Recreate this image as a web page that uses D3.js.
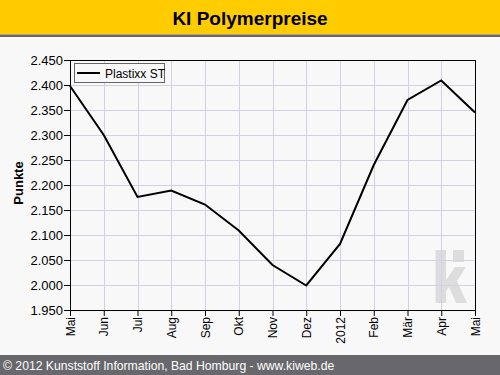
<!DOCTYPE html>
<html><head><meta charset="utf-8">
<script src="https://cdn.jsdelivr.net/npm/d3@7"></script>
<style>html,body{margin:0;padding:0;background:#f8f8f8;}svg{display:block;font-family:"Liberation Sans",Arial,sans-serif;}</style>
</head><body>
<svg id="c" width="500" height="375"></svg>
<script>
const months = ["Mai","Jun","Jul","Aug","Sep","Okt","Nov","Dez","2012","Feb","Mär","Apr","Mai"];
const values = [2.398,2.300,2.176,2.189,2.161,2.109,2.040,1.999,2.082,2.240,2.370,2.409,2.345];
const yTicks = [1.95,2.0,2.05,2.1,2.15,2.2,2.25,2.3,2.35,2.4,2.45];
const seriesName = "Plastixx ST";
const title = "KI Polymerpreise";
const yTitle = "Punkte";
const footer = "© 2012 Kunststoff Information, Bad Homburg - www.kiweb.de";

const svg = d3.select("#c");
const L = 70, R = 475, T = 60, B = 310;
const x = d3.scaleLinear().domain([0, months.length-1]).range([L, R]);
const y = d3.scaleLinear().domain([1.95, 2.45]).range([B, T]);
const fmt = v => d3.format(".3f")(v);

svg.append("rect").attr("width",500).attr("height",375).attr("fill","#f8f8f8");
// title bar
svg.append("rect").attr("x",0).attr("y",0).attr("width",500).attr("height",34.5).attr("fill","#ffcc00");
svg.append("rect").attr("x",0).attr("y",34.5).attr("width",500).attr("height",2.5).attr("fill","#68686c");
svg.append("text").attr("x",250).attr("y",25).attr("text-anchor","middle")
  .attr("font-size",19).attr("font-weight","bold").attr("fill","#000").text(title);

// watermark
const wm = svg.append("g").attr("fill","#dddddd");
wm.append("rect").attr("x",435.5).attr("y",250).attr("width",10.5).attr("height",53);
wm.append("rect").attr("x",453).attr("y",250).attr("width",11).attr("height",12);
wm.append("path").attr("d","M446,280 L455,267 L466,267 L457,281 L467,303 L456,303 L449,287 L446,291 Z");

// grid
const grid = svg.append("g").attr("stroke","#d4d0e4").attr("stroke-width",1);
yTicks.forEach(t => grid.append("line").attr("x1",L).attr("x2",R).attr("y1",Math.round(y(t))+0.5).attr("y2",Math.round(y(t))+0.5));
months.forEach((m,i) => grid.append("line").attr("y1",T).attr("y2",B).attr("x1",Math.round(x(i))+0.5).attr("x2",Math.round(x(i))+0.5));

// axes
const yAxis = svg.append("g").attr("transform",`translate(${L},0)`)
  .call(d3.axisLeft(y).tickValues(yTicks).tickFormat(fmt).tickSize(6).tickSizeOuter(0));
yAxis.selectAll("text").attr("font-size",13).attr("fill","#000").attr("font-family","Liberation Sans, Arial, sans-serif").attr("x",-7);
yAxis.selectAll("line,path").attr("stroke","#000");

const xAxis = svg.append("g").attr("transform",`translate(0,${B})`)
  .call(d3.axisBottom(x).tickValues(d3.range(months.length)).tickFormat(i => months[i]).tickSize(6).tickSizeOuter(0));
xAxis.selectAll("text").attr("font-size",12).attr("fill","#000").attr("font-family","Liberation Sans, Arial, sans-serif")
  .attr("transform","rotate(-90)").attr("text-anchor","end").attr("x",-7).attr("y",0).attr("dy","0.35em");
xAxis.selectAll("line,path").attr("stroke","#000");

// right & top frame
svg.append("line").attr("x1",R+0.5).attr("x2",R+0.5).attr("y1",T).attr("y2",B).attr("stroke","#000");
svg.append("line").attr("x1",L).attr("x2",R).attr("y1",T+0.5).attr("y2",T+0.5).attr("stroke","#000");

// y title
svg.append("text").attr("transform","translate(23,183) rotate(-90)").attr("text-anchor","middle")
  .attr("font-size",13).attr("font-weight","bold").attr("fill","#000").text(yTitle);

// line
svg.append("path").datum(values)
  .attr("d", d3.line().x((d,i)=>x(i)).y(d=>y(d)))
  .attr("fill","none").attr("stroke","#000").attr("stroke-width",2);

// legend
const lg = svg.append("g");
lg.append("rect").attr("x",74.5).attr("y",63.5).attr("width",90).attr("height",19)
  .attr("fill","#f8f8f8").attr("stroke","#666").attr("stroke-width",1);
lg.append("line").attr("x1",77).attr("x2",100).attr("y1",73).attr("y2",73).attr("stroke","#000").attr("stroke-width",2);
lg.append("text").attr("x",105).attr("y",77.5).attr("font-size",12).attr("fill","#000").text(seriesName);

// footer
svg.append("rect").attr("x",0).attr("y",355).attr("width",500).attr("height",20).attr("fill","#68686c");
svg.append("text").attr("x",3).attr("y",370).attr("font-size",12.2).attr("fill","#fff").text(footer);
</script>
</body></html>
